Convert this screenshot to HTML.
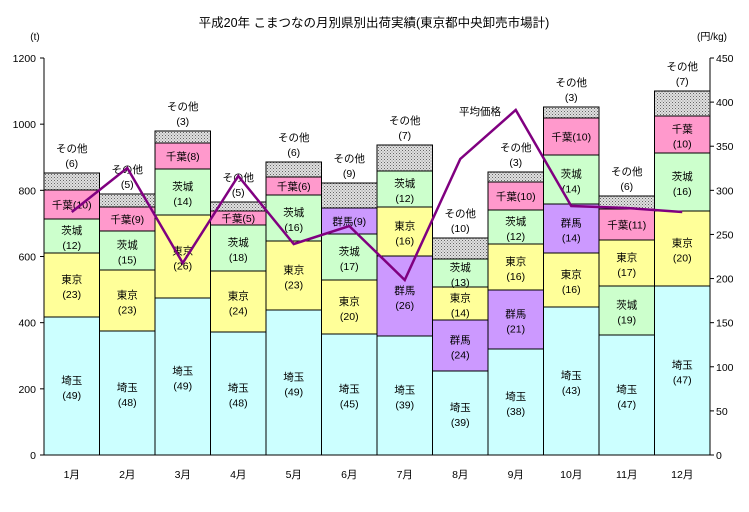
<!DOCTYPE html>
<html><head><meta charset="utf-8"><style>
body{margin:0;background:#fff}
svg{display:block;font-family:"Liberation Sans","Noto Sans CJK JP",sans-serif}
</style></head><body>
<svg id="s" width="749" height="512" xmlns="http://www.w3.org/2000/svg">
<defs>
<pattern id="dot" width="3" height="3" patternUnits="userSpaceOnUse">
<rect width="3" height="3" fill="#e0e0e0"/><rect width="1" height="1" fill="#666"/><rect x="1.5" y="1.5" width="1" height="1" fill="#888"/>
</pattern>
</defs>
<text x="374" y="27" font-size="12.5" text-anchor="middle">平成20年 こまつなの月別県別出荷実績(東京都中央卸売市場計)</text>
<text x="35" y="40" font-size="10" text-anchor="middle">(t)</text>
<text x="712" y="40" font-size="10" text-anchor="middle">(円/kg)</text>
<g id="g"></g>
</svg>
<script>
const g=document.getElementById('g');
let h='';
const X0=44,X1=710,Y0=455,YT=58,W=(X1-X0)/12,FS=10.5;
const col={埼玉:'#ccffff',東京:'#ffff99',茨城:'#ccffcc',千葉:'#ff99cc',群馬:'#cc99ff',他:'url(#dot)'};
for(let i=0;i<=6;i++){const y=Y0-i*(Y0-YT)/6;h+=`<line x1="40" x2="${X0}" y1="${y}" y2="${y}" stroke="#000"/><text x="36" y="${y+4}" font-size="${FS}" text-anchor="end">${i*200}</text>`;}
for(let i=0;i<=9;i++){const y=Y0-i*(Y0-YT)/9;h+=`<line x1="${X1}" x2="${X1+4}" y1="${y}" y2="${y}" stroke="#000"/><text x="716" y="${y+4}" font-size="${FS}">${i*50}</text>`;}
const data=[
[[ '埼玉',317,49],['東京',253,23],['茨城',219,12],['千葉',190,10],['他',173,6]],
[[ '埼玉',331,48],['東京',270,23],['茨城',231,15],['千葉',207,9],['他',194,5]],
[[ '埼玉',298,49],['東京',215,26],['茨城',169,14],['千葉',143,8],['他',131,3]],
[[ '埼玉',332,48],['東京',271,24],['茨城',225,18],['千葉',211,5],['他',202,5]],
[[ '埼玉',310,49],['東京',241,23],['茨城',195,16],['千葉',177,6],['他',162,6]],
[[ '埼玉',334,45],['東京',280,20],['茨城',234,17],['群馬',208,9],['他',183,9]],
[[ '埼玉',336,39],['群馬',256,26],['東京',207,16],['茨城',171,12],['他',145,7]],
[[ '埼玉',371,39],['群馬',320,24],['東京',287,14],['茨城',259,13],['他',238,10]],
[[ '埼玉',349,38],['群馬',290,21],['東京',244,16],['茨城',210,12],['千葉',182,10],['他',172,3]],
[[ '埼玉',307,43],['東京',253,16],['群馬',204,14],['茨城',155,14],['千葉',118,10],['他',107,3]],
[[ '埼玉',335,47],['茨城',286,19],['東京',240,17],['千葉',209,11],['他',196,6]],
[[ '埼玉',286,47],['東京',211,20],['茨城',153,16],['千葉',116,10],['他',91,7]]];
data.forEach((m,i)=>{
 const x=X0+i*W,cx=x+W/2;let bot=Y0;
 m.forEach(([n,t,v])=>{
  const hh=bot-t;
  h+=`<rect x="${x}" y="${t}" width="${W}" height="${hh}" fill="${col[n]}" stroke="#000" stroke-width="1"/>`;
  if(n==='他'){h+=`<text x="${cx}" y="${t-21}" font-size="${FS}" text-anchor="middle">その他</text><text x="${cx}" y="${t-6}" font-size="${FS}" text-anchor="middle">(${v})</text>`;}
  else{const my=(t+bot)/2;
   if((n==='千葉'&&i!==11)||hh<27) h+=`<text x="${cx}" y="${my+4}" font-size="${FS}" text-anchor="middle">${n}(${v})</text>`;
   else h+=`<text x="${cx}" y="${my-2}" font-size="${FS}" text-anchor="middle">${n}</text><text x="${cx}" y="${my+13}" font-size="${FS}" text-anchor="middle">(${v})</text>`;}
  bot=t;});
 h+=`<text x="${cx}" y="478" font-size="${FS}" text-anchor="middle">${i+1}月</text>`;
});
h+=`<line x1="${X0}" y1="${YT}" x2="${X0}" y2="${Y0}" stroke="#000"/><line x1="${X1}" y1="${YT}" x2="${X1}" y2="${Y0}" stroke="#000"/><line x1="${X0}" y1="${Y0}" x2="${X1}" y2="${Y0}" stroke="#000"/>`;
const ly=[212,168,263,176,244,226,280,159,110,206,208,212];
h+=`<polyline fill="none" stroke="#800080" stroke-width="2.5" points="${ly.map((y,i)=>(X0+(i+.5)*W)+','+y).join(' ')}"/>`;
h+=`<text x="480" y="115" font-size="${FS}" text-anchor="middle">平均価格</text>`;
g.innerHTML=h;
</script>
</body></html>
